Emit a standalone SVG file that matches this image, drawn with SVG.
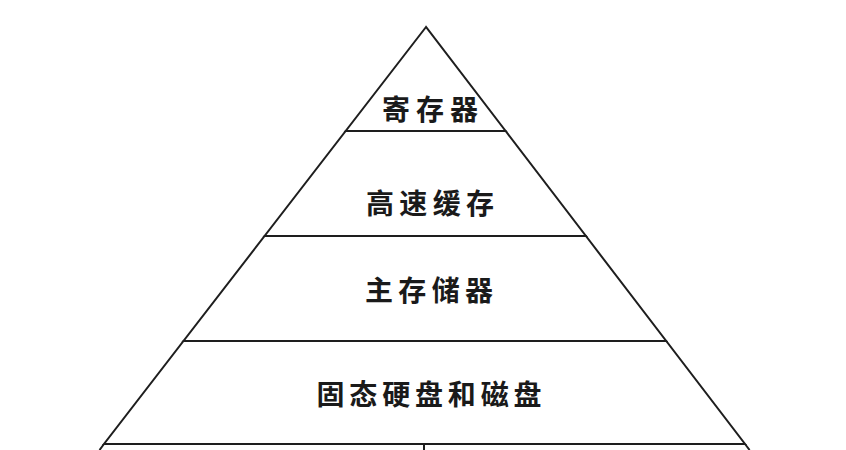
<svg xmlns="http://www.w3.org/2000/svg" width="846" height="450" viewBox="0 0 846 450">
<style>
.edge{fill:none;stroke:#1e1e1e;stroke-width:2;stroke-linejoin:miter}
.lbl{font-family:"Noto Sans CJK SC","Noto Sans",sans-serif;font-size:28px;font-weight:700;fill:#1a1a1a;text-anchor:middle}
</style>
<rect width="846" height="450" fill="#ffffff"/>
<g id="level-register">
<polygon class="edge" points="426,27 345.7,131 505.6,131"/>
<text class="lbl" x="430" y="120" textLength="96" lengthAdjust="spacing">寄存器</text>
</g>
<g id="level-cache">
<polygon class="edge" points="345.7,131 505.6,131 585.9,236 264.6,236"/>
<text class="lbl" x="430" y="214" textLength="128" lengthAdjust="spacing">高速缓存</text>
</g>
<g id="level-main-memory">
<polygon class="edge" points="264.6,236 585.9,236 666.2,341 183.5,341"/>
<text class="lbl" x="429" y="301" textLength="128" lengthAdjust="spacing">主存储器</text>
</g>
<g id="level-disk">
<polygon class="edge" points="183.5,341 666.2,341 745,444 104,444"/>
<text class="lbl" x="429" y="405" textLength="225" lengthAdjust="spacing">固态硬盘和磁盘</text>
</g>
<g id="level-bottom">
<path class="edge" d="M104,444 L99.5,450 M745,444 L749.6,450 M424,444 L424,452"/>
</g>
<g id="connectors"></g>
</svg>
